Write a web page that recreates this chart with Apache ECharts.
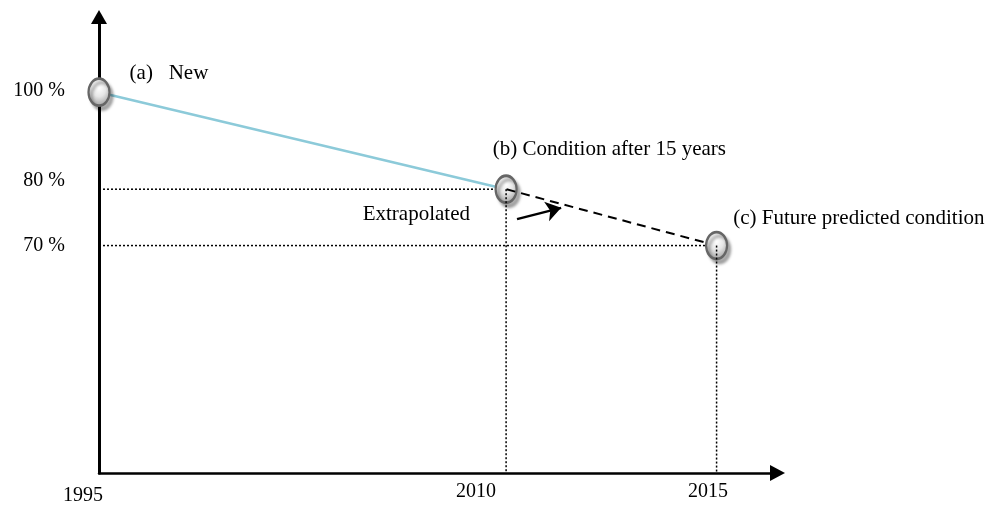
<!DOCTYPE html>
<html>
<head>
<meta charset="utf-8">
<script src="https://cdn.jsdelivr.net/npm/echarts@6/dist/echarts.min.js"></script>
<style>
  html, body { margin: 0; padding: 0; background: #ffffff; }
  #chart { width: 995px; height: 506px; }
</style>
</head>
<body>
<div id="chart"></div>
<script>
// Condition of an asset: new in 1995, inspected in 2010, forecast for 2015.
const years = [1995, 2010, 2015];
const condition = [100, 80, 70];
const pointNotes = ['(a)   New', '(b) Condition after 15 years', '(c) Future predicted condition'];
const xTickValues = [1995, 2010, 2015];
const yTickValues = [100, 80, 70];
const extrapolatedNote = 'Extrapolated';

// The sketch is not drawn to scale: the measured span (1995-2010) and the
// forecast span (2010-2015) each get their own pair of scales.
const measuredX = { min: 1995, max: 2020 };
const forecastX = { min: 2000.3, max: 2016.45 };
const measuredY = { min: 21.5, max: 115.5 };
const forecastY = { min: 29.6, max: 110.6 };

const SERIF = "'Liberation Serif', 'Times New Roman', serif";
const INK = '#000000';

const tickText = { fontFamily: SERIF, fontSize: 20, color: INK };
const xRich = {
  p1995: Object.assign({ padding: [4, 32, 0, 0] }, tickText),
  p2010: Object.assign({ padding: [0, 60, 0, 0] }, tickText),
  p2015: Object.assign({ padding: [0, 17, 2, 0] }, tickText)
};
const yRich = {
  p100: Object.assign({ padding: [0, 0, 2, 0] }, tickText),
  p80: Object.assign({ padding: [0, 0, 16, 0] }, tickText),
  p70: Object.assign({ padding: [0, 0, 0, 0] }, tickText)
};
const xLabelFmt = v => '{p' + v + '|' + v + '}';
const yLabelFmt = v => '{p' + v + '|' + v + ' %}';

// Glossy oval marker
const ovalPath = 'path://M10,0A10,10,0,1,1,10,20A10,10,0,1,1,10,0Z';
const markerStyle = {
  opacity: 1,
  color: {
    type: 'radial', x: 0.5, y: 0.35, r: 0.75,
    colorStops: [
      { offset: 0, color: '#ffffff' },
      { offset: 0.4, color: '#e6e6e6' },
      { offset: 1, color: '#858585' }
    ]
  },
  borderColor: '#666666',
  borderWidth: 2.5,
  shadowColor: 'rgba(0,0,0,0.3)',
  shadowBlur: 3,
  shadowOffsetX: 3,
  shadowOffsetY: 4
};
const noteText = {
  fontFamily: SERIF, fontSize: 21, color: INK, opacity: 1,
  textShadowBlur: 0, textBorderWidth: 0
};

function marker(name, i, axis, z, offset) {
  return {
    name: name,
    type: 'scatter',
    xAxisIndex: axis, yAxisIndex: axis,
    z: z,
    symbol: ovalPath,
    symbolSize: [21, 27],
    itemStyle: markerStyle,
    label: Object.assign({
      show: true, position: 'right', distance: 0, offset: offset,
      formatter: pointNotes[i]
    }, noteText),
    silent: true,
    data: [[years[i], condition[i]]]
  };
}

const dotted = { color: '#000000', width: 1.5, type: [2, 2] };
function guide(name, axis, z, pts) {
  return {
    name: name, type: 'line', xAxisIndex: axis, yAxisIndex: axis, z: z,
    symbol: 'none', silent: true, lineStyle: dotted, data: pts
  };
}

const option = {
  animation: false,
  grid: { left: 99, right: 217.5, top: 17, bottom: 33, outerBoundsMode: 'none' },
  xAxis: [
    {
      type: 'value', position: 'bottom', min: measuredX.min, max: measuredX.max,
      axisLine: { show: true, onZero: false, symbol: ['none', 'triangle'], symbolSize: [16, 15],
        lineStyle: { color: '#000000', width: 2.5 } },
      axisTick: { show: false }, splitLine: { show: false },
      axisLabel: { customValues: xTickValues.slice(0, 2), margin: 9, formatter: xLabelFmt, rich: xRich }
    },
    {
      type: 'value', position: 'bottom', min: forecastX.min, max: forecastX.max,
      axisLine: { show: false, onZero: false }, axisTick: { show: false }, splitLine: { show: false },
      axisLabel: { customValues: xTickValues.slice(2), margin: 9, formatter: xLabelFmt, rich: xRich }
    }
  ],
  yAxis: [
    {
      type: 'value', position: 'left', min: measuredY.min, max: measuredY.max,
      axisLine: { show: true, onZero: false, symbol: ['none', 'triangle'], symbolSize: [16, 14],
        lineStyle: { color: '#000000', width: 3 } },
      axisTick: { show: false }, splitLine: { show: false },
      axisLabel: { customValues: yTickValues.slice(0, 2), margin: 34, formatter: yLabelFmt, rich: yRich }
    },
    {
      type: 'value', position: 'left', offset: 0, min: forecastY.min, max: forecastY.max,
      axisLine: { show: false, onZero: false }, axisTick: { show: false }, splitLine: { show: false },
      axisLabel: { customValues: yTickValues.slice(2), margin: 34, formatter: yLabelFmt, rich: yRich }
    }
  ],
  series: [
    // measured decline
    {
      name: 'Measured', type: 'line', xAxisIndex: 0, yAxisIndex: 0, z: 1,
      symbol: 'none', silent: true,
      lineStyle: { color: '#8ccad9', width: 2.5 },
      data: [[years[0], condition[0]], [years[1], condition[1]]]
    },
    guide('Guide 80 h', 0, 1, [[years[0], condition[1]], [years[1], condition[1]]]),
    guide('Guide 70 h', 1, 1, [[forecastX.min, condition[2]], [years[2], condition[2]]]),
    marker('After 15 years', 1, 0, 2, [-25, -40]),
    // linear extrapolation to the forecast year
    {
      name: 'Extrapolated', type: 'line', xAxisIndex: 1, yAxisIndex: 1, z: 3,
      symbol: 'none', silent: true,
      lineStyle: { color: '#000000', width: 2, type: [9, 6] },
      data: [[years[1], condition[1]], [years[2], condition[2]]],
      markLine: {
        silent: true, symbol: ['none', 'arrow'], symbolSize: 15,
        label: { show: false },
        lineStyle: { color: '#000000', width: 2.5, type: 'solid' },
        data: [[{ coord: [2010.25, 74.7] }, { coord: [2011.3, 76.7] }]]
      },
      markPoint: {
        silent: true, symbol: 'circle', symbolSize: 0,
        label: Object.assign({ show: true, position: 'left', distance: 0, formatter: extrapolatedNote }, noteText),
        data: [{ coord: [2009.13, 75.6] }]
      }
    },
    marker('New', 0, 0, 4, [19, -19]),
    marker('Predicted', 2, 1, 4, [5, -26.6]),
    guide('Guide 80 v', 0, 5, [[years[1], condition[1]], [years[1], measuredY.min]]),
    guide('Guide 70 v', 1, 5, [[years[2], condition[2]], [years[2], forecastY.min]])
  ]
};

const chart = echarts.init(document.getElementById('chart'), null, { renderer: 'canvas' });
chart.setOption(option);
</script>
</body>
</html>
